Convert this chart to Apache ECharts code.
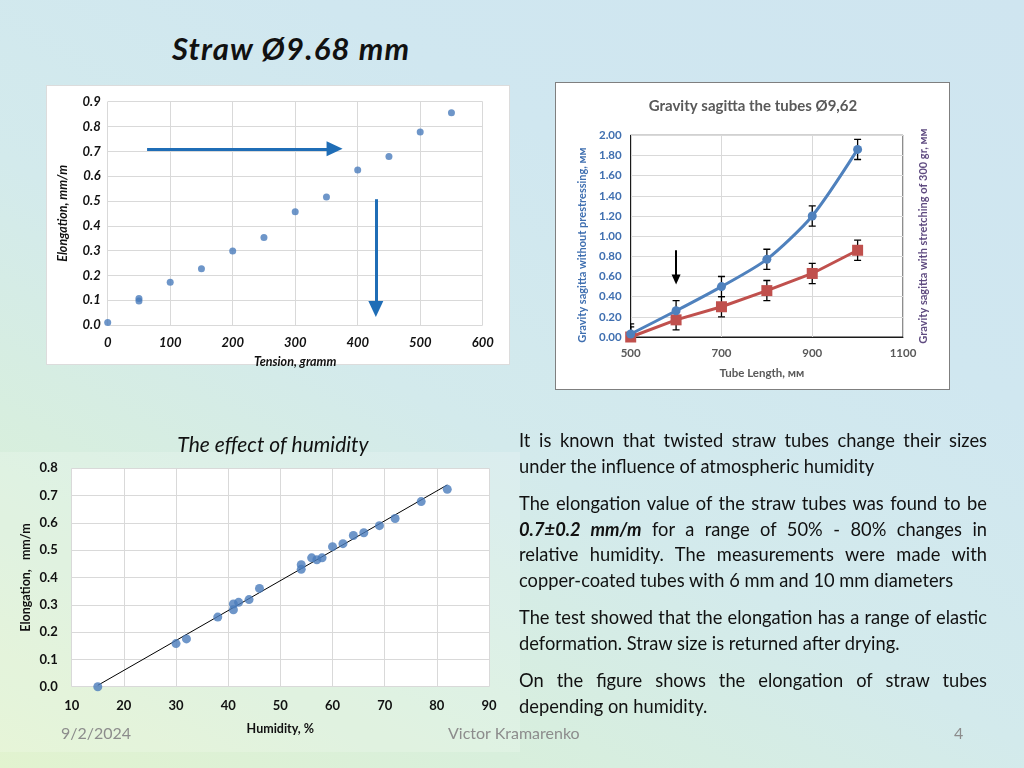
<!DOCTYPE html>
<html><head><meta charset="utf-8">
<script src="https://cdn.jsdelivr.net/npm/echarts@6/dist/echarts.min.js"></script>
<style>
html,body{margin:0;padding:0;width:1024px;height:768px;overflow:hidden;}
body{position:relative;font-family:Lato,'Open Sans',sans-serif;
 background:linear-gradient(30deg,#e2f3cf 0%,#d8efdc 22%,#d3eaec 45%,#d0e7f0 70%,#cfe5f0 100%);}
.panel{position:absolute;background:#fff;}
#chart{position:absolute;left:0;top:0;width:1024px;height:768px;}
.heading{position:absolute;left:172px;top:29px;font-size:31px;letter-spacing:1.2px;font-weight:bold;font-style:italic;color:#111;white-space:nowrap;}
.para{position:absolute;left:519px;width:468px;font-size:18.3px;line-height:25.5px;color:#111;}
.para span{display:block;text-align:justify;text-align-last:justify;white-space:nowrap;}
.para span.last{text-align-last:left;}
.foot{position:absolute;top:723px;font-size:16px;color:#8c8c8c;white-space:nowrap;}
</style></head>
<body>
<div class="panel" style="left:46px;top:85px;width:464px;height:280px;border:1px solid #dcdcdc;box-sizing:border-box;"></div>
<div class="panel" style="left:555px;top:82px;width:395px;height:308px;border:1px solid #7f7f7f;box-sizing:border-box;"></div>
<div class="panel" style="left:0px;top:452px;width:520px;height:300px;background:rgba(255,255,255,0.18);"></div>
<div class="heading">Straw Ø9.68 mm</div>
<div id="chart"></div>
<div class="para" style="top:428px;"><span>It is known that twisted straw tubes change their sizes</span><span class="last">under the influence of atmospheric humidity</span></div>
<div class="para" style="top:491px;"><span>The elongation value of the straw tubes was found to be</span><span><b><i>0.7±0.2 mm/m</i></b> for a range of 50% - 80% changes in</span><span>relative humidity. The measurements were made with</span><span class="last">copper-coated tubes with 6 mm and 10 mm diameters</span></div>
<div class="para" style="top:605px;"><span>The test showed that the elongation has a range of elastic</span><span class="last">deformation. Straw size is returned after drying.</span></div>
<div class="para" style="top:668px;"><span>On the figure shows the elongation of straw tubes</span><span class="last">depending on humidity.</span></div>
<div class="foot" style="left:61px;">9/2/2024</div>
<div class="foot" style="left:448px;">Victor Kramarenko</div>
<div class="foot" style="left:954px;">4</div>
<script>
// Chart 1: elongation vs tension
const tensionX = [0, 50, 50, 100, 150, 200, 250, 300, 350, 400, 450, 500, 550];
const tensionElong = [0.01, 0.107, 0.097, 0.172, 0.227, 0.298, 0.353, 0.456, 0.516, 0.625, 0.679, 0.778, 0.855];
const tensionTicks = [0, 100, 200, 300, 400, 500, 600];
const arrowH = [[63, 0.71], [363, 0.71]];
const arrowV = [[429, 0.507], [429, 0.064]];
// Chart 2: gravity sagitta
const tubeLength = [500, 600, 700, 800, 900, 1000];
const sagNoStress = [0.03, 0.26, 0.50, 0.77, 1.20, 1.86];
const sagStretched = [0.0, 0.17, 0.30, 0.46, 0.63, 0.86];
const errNoStress = [0.1, 0.1, 0.1, 0.1, 0.1, 0.1];
const errStretched = [0.1, 0.1, 0.1, 0.1, 0.1, 0.1];
const arrowBlack = [[600, 0.86], [600, 0.57]];
// Chart 3: elongation vs humidity
const humidity = [15, 30, 32, 38, 41, 41, 42, 44, 46, 54, 54, 56, 57, 58, 60, 62, 64, 66, 69, 72, 77, 82];
const humElong = [0.0, 0.158, 0.175, 0.255, 0.303, 0.282, 0.309, 0.319, 0.36, 0.447, 0.43, 0.472, 0.465, 0.472, 0.513, 0.524, 0.554, 0.564, 0.59, 0.616, 0.678, 0.723];
const trendX = [15, 82];
const trendY = [0.005, 0.739];

const F = 'Lato, "Open Sans", sans-serif';
const chart = echarts.init(document.getElementById('chart'), null, {renderer: 'canvas'});

function errRender(params, api) {
  const x = api.value(0), y = api.value(1), e = api.value(2);
  const p1 = api.coord([x, y + e]), p2 = api.coord([x, y - e]);
  const w = 3.5;
  const style = {stroke: '#000', lineWidth: 1.3};
  return {type: 'group', children: [
    {type: 'line', shape: {x1: p1[0], y1: p1[1], x2: p2[0], y2: p2[1]}, style: style},
    {type: 'line', shape: {x1: p1[0] - w, y1: p1[1], x2: p1[0] + w, y2: p1[1]}, style: style},
    {type: 'line', shape: {x1: p2[0] - w, y1: p2[1], x2: p2[0] + w, y2: p2[1]}, style: style}
  ]};
}

const gridLine = {show: true, lineStyle: {color: '#d9d9d9', width: 1}};
const option = {
  animation: false,
  textStyle: {fontFamily: F},
  graphic: [
    {type: 'text', x: 753, y: 106, style: {text: 'Gravity sagitta the tubes Ø9,62', font: 'bold 15px ' + F, fill: '#595959', textAlign: 'center', textVerticalAlign: 'middle', verticalAlign: 'middle'}},
    {type: 'text', x: 273, y: 445, style: {text: 'The effect of humidity', font: 'italic 21px ' + F, fill: '#111', textAlign: 'center', textVerticalAlign: 'middle', verticalAlign: 'middle'}}
  ],
  grid: [
    {left: 107.7, top: 101.7, width: 375, height: 223.3},
    {left: 630.7, top: 135.3, width: 272.3, height: 201.7, show: true, borderColor: '#1a1a1a', borderWidth: 1, backgroundColor: 'transparent'},
    {left: 71.7, top: 468.3, width: 417.3, height: 218.4, show: true, borderWidth: 0, backgroundColor: '#ffffff'}
  ],
  xAxis: [
    {gridIndex: 0, type: 'value', min: 0, max: 600, interval: 100,
     axisLine: {show: false}, axisTick: {show: false}, splitLine: gridLine,
     axisLabel: {margin: 11, fontSize: 13, fontWeight: 'bold', fontStyle: 'italic', color: '#111'},
     name: 'Tension, gramm', nameLocation: 'middle', nameGap: 30,
     nameTextStyle: {fontSize: 12.5, fontWeight: 'bold', fontStyle: 'italic', color: '#111'}},
    {gridIndex: 1, type: 'value', min: 500, max: 1100, interval: 200,
     axisLine: {show: true, lineStyle: {color: '#1a1a1a'}}, axisTick: {show: false},
     splitLine: {show: true, lineStyle: {color: '#d9d9d9'}},
     axisLabel: {margin: 10, fontSize: 11.5, fontWeight: 'bold', color: '#595959', formatter: v => String(v)},
     name: 'Tube Length, мм', nameLocation: 'middle', nameGap: 30,
     nameTextStyle: {fontSize: 11.5, fontWeight: 'bold', color: '#595959', padding: [0, 0, 0, -10]}},
    {gridIndex: 2, type: 'value', min: 10, max: 90, interval: 10,
     axisLine: {show: false}, axisTick: {show: false}, splitLine: gridLine,
     axisLabel: {margin: 13, fontSize: 13, fontWeight: 'bold', color: '#111'},
     name: 'Humidity, %', nameLocation: 'middle', nameGap: 36,
     nameTextStyle: {fontSize: 12.5, fontWeight: 'bold', color: '#111'}}
  ],
  yAxis: [
    {gridIndex: 0, type: 'value', min: 0, max: 0.9, interval: 0.1,
     axisLine: {show: false}, axisTick: {show: false}, splitLine: gridLine,
     axisLabel: {margin: 7, fontSize: 13, fontWeight: 'bold', fontStyle: 'italic', color: '#111', formatter: v => v.toFixed(1)},
     name: 'Elongation, mm/m', nameLocation: 'middle', nameGap: 38,
     nameTextStyle: {fontSize: 12.5, fontWeight: 'bold', fontStyle: 'italic', color: '#111'}},
    {gridIndex: 1, type: 'value', min: 0, max: 2, interval: 0.2,
     axisLine: {show: true, lineStyle: {color: '#1a1a1a'}}, axisTick: {show: false},
     splitLine: {show: true, lineStyle: {color: '#d9d9d9'}},
     axisLabel: {margin: 9, fontSize: 11.5, fontWeight: 'bold', color: '#3f6fb0', formatter: v => v.toFixed(2)},
     name: 'Gravity sagitta without prestressing, мм', nameLocation: 'middle', nameGap: 43,
     nameTextStyle: {fontSize: 11, fontWeight: 'bold', color: '#3f6fb0', padding: [0, 0, 0, -18]}},
    {gridIndex: 1, type: 'value', min: 0, max: 2, interval: 0.2, position: 'right',
     axisLine: {show: false}, axisTick: {show: false}, splitLine: {show: false}, axisLabel: {show: false},
     name: 'Gravity sagitta with stretching of 300 gr, мм', nameLocation: 'middle', nameGap: 15,
     nameTextStyle: {fontSize: 11, fontWeight: 'bold', color: '#5f4b80'}},
    {gridIndex: 2, type: 'value', min: 0, max: 0.8, interval: 0.1,
     axisLine: {show: false}, axisTick: {show: false}, splitLine: gridLine,
     axisLabel: {margin: 14, fontSize: 13, fontWeight: 'bold', color: '#111', formatter: v => v.toFixed(1)},
     name: 'Elongation,   mm/m', nameLocation: 'middle', nameGap: 39,
     nameTextStyle: {fontSize: 12.5, fontWeight: 'bold', color: '#111'}}
  ],
  series: [
    {type: 'scatter', xAxisIndex: 0, yAxisIndex: 0, symbolSize: 7,
     itemStyle: {color: '#4a7cbb'},
     data: tensionX.map((x, i) => [x, tensionElong[i]]),
     markLine: {silent: true, symbol: ['none', 'triangle'], symbolSize: [15, 16],
       label: {show: false}, emphasis: {disabled: true},
       lineStyle: {color: '#1f6db6', width: 3, type: 'solid'},
       data: [
         [{coord: arrowH[0]}, {coord: arrowH[1]}],
         [{coord: arrowV[0]}, {coord: arrowV[1]}]
       ]}},
    {type: 'custom', xAxisIndex: 1, yAxisIndex: 1, clip: true, z: 1,
     renderItem: errRender, encode: {x: 0, y: 1},
     data: tubeLength.map((x, i) => [x, sagNoStress[i], errNoStress[i]])},
    {type: 'custom', xAxisIndex: 1, yAxisIndex: 1, clip: true, z: 1,
     renderItem: errRender, encode: {x: 0, y: 1},
     data: tubeLength.map((x, i) => [x, sagStretched[i], errStretched[i]])},
    {type: 'line', xAxisIndex: 1, yAxisIndex: 1, z: 3, smooth: 0.25,
     symbol: 'circle', symbolSize: 9, showSymbol: true,
     lineStyle: {color: '#4f81bd', width: 3}, itemStyle: {color: '#4f81bd'},
     data: tubeLength.map((x, i) => [x, sagNoStress[i]]),
     markLine: {silent: true, symbol: ['none', 'triangle'], symbolSize: [9, 10],
       label: {show: false}, emphasis: {disabled: true},
       lineStyle: {color: '#000', width: 2, type: 'solid'},
       data: [[{coord: arrowBlack[0]}, {coord: arrowBlack[1]}]]}},
    {type: 'line', xAxisIndex: 1, yAxisIndex: 1, z: 2,
     symbol: 'rect', symbolSize: 11, showSymbol: true,
     lineStyle: {color: '#c0504d', width: 3}, itemStyle: {color: '#c0504d'},
     data: tubeLength.map((x, i) => [x, sagStretched[i]])},
    {type: 'line', xAxisIndex: 2, yAxisIndex: 3, z: 2, symbol: 'none',
     lineStyle: {color: '#000', width: 1},
     data: trendX.map((x, i) => [x, trendY[i]])},
    {type: 'scatter', xAxisIndex: 2, yAxisIndex: 3, z: 3, symbolSize: 9,
     itemStyle: {color: '#4a7cbb'},
     data: humidity.map((x, i) => [x, humElong[i]])}
  ]
};
chart.setOption(option);
</script>
</body></html>
